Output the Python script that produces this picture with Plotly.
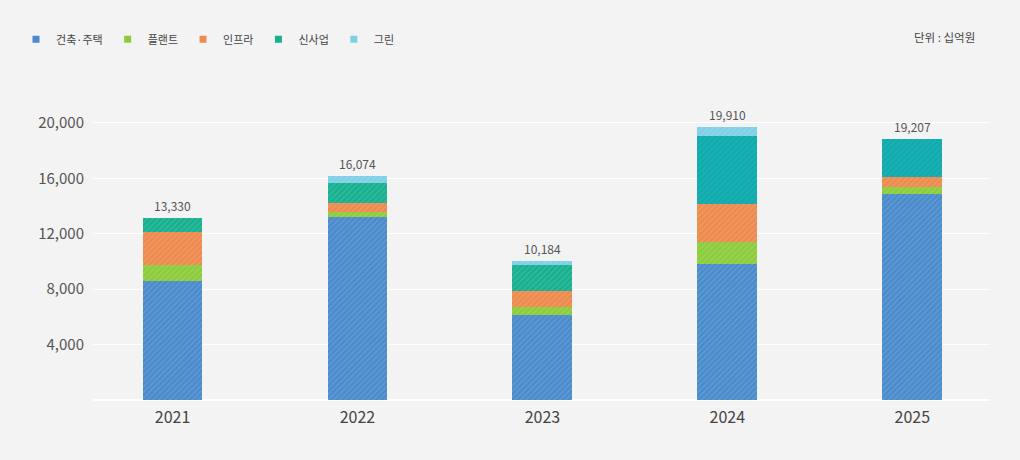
import plotly.graph_objects as go

# 연도별 수주 구성 (단위: 십억원)
years = ["2021", "2022", "2023", "2024", "2025"]
housing = [8560, 13230, 6160, 9840, 14880]   # 건축·주택
plant = [1150, 360, 580, 1590, 500]          # 플랜트
infra = [2450, 650, 1100, 2740, 720]         # 인프라
newbiz = [990, 1440, 1920, 4900, 2740]       # 신사업
green = [0, 500, 290, 650, 0]                # 그린
totals = ["13,330", "16,074", "10,184", "19,910", "19,207"]

series = [
    ("건축·주택", housing, "#4a8bcc"),
    ("플랜트", plant, "#8ccc3c"),
    ("인프라", infra, "#ee8a4e"),
    ("신사업", newbiz, ["#17b08f", "#17b08f", "#17b08f", "#13b2b5", "#13b2b5"]),
    ("그린", green, "#7fd0e6"),
]

FONT = "Noto Sans CJK KR"

fig = go.Figure()
for name, vals, col in series:
    fig.add_trace(go.Bar(
        x=years, y=vals, name=name, showlegend=False,
        width=0.324,
        marker=dict(color=col, line=dict(width=0),
                    pattern=dict(shape="/", size=4, solidity=0.25,
                                 fgcolor="white", fgopacity=0.18)),
        hoverinfo="skip",
    ))

# 범례용 작은 사각형
for name, vals, col in series:
    c = col if isinstance(col, str) else col[0]
    fig.add_trace(go.Scatter(
        x=[None], y=[None], mode="markers", name=name,
        marker=dict(symbol="square", size=7, color=c),
    ))

# 합계 라벨 (카테고리 축이라 인덱스로 위치 지정)
stack_top = [a + b + c + d + e for a, b, c, d, e in zip(housing, plant, infra, newbiz, green)]
for i, (top, t) in enumerate(zip(stack_top, totals)):
    fig.add_annotation(
        x=i, y=top, xref="x", yref="y", text=t, showarrow=False,
        yanchor="middle", yshift=12,
        font=dict(size=12, color="#555555", family=FONT),
    )

fig.add_annotation(
    text="단위 : 십억원", xref="paper", yref="paper", x=0.9855, y=1.247,
    xanchor="right", yanchor="middle", showarrow=False,
    font=dict(size=11.5, color="#444444", family=FONT),
)

fig.update_layout(
    width=1020, height=460,
    barmode="stack",
    paper_bgcolor="#f3f3f3", plot_bgcolor="#f3f3f3",
    margin=dict(l=93, r=30, t=109, b=60),
    font=dict(family=FONT, color="#555555"),
    legend=dict(orientation="h", x=0.0157, y=0.946, xref="container", yref="container",
                xanchor="left", yanchor="top", traceorder="normal",
                font=dict(size=11, color="#444444", family=FONT),
                itemwidth=30, bgcolor="rgba(0,0,0,0)"),
    showlegend=True,
)
fig.update_xaxes(
    type="category", range=[-0.43, 4.42],
    showgrid=False, showline=False, ticks="", ticklabelstandoff=6,
    tickfont=dict(size=16, color="#444444", family=FONT),
)
fig.update_yaxes(
    range=[0, 21000], tickvals=[4000, 8000, 12000, 16000, 20000],
    tickformat=",", showgrid=True, gridcolor="#ffffff", gridwidth=1,
    zeroline=True, zerolinecolor="#ffffff", zerolinewidth=1.5,
    ticks="", ticklabelstandoff=8,
    tickfont=dict(size=15, color="#555555", family=FONT),
)

fig.write_html(
    "out.html",
    config={"displayModeBar": False},
    post_script="document.body.style.margin='0';document.body.style.background='#f3f3f3';",
)
